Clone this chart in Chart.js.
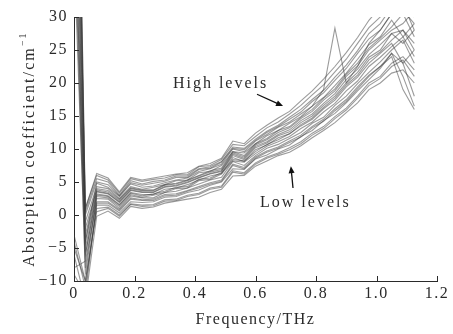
<!DOCTYPE html>
<html>
<head>
<meta charset="utf-8">
<script src="https://cdn.jsdelivr.net/npm/chart.js@4.4.1/dist/chart.umd.min.js"></script>
<style>
    html, body { margin: 0; padding: 0; background: #ffffff; }
    #wrap { width: 453px; height: 334px; position: relative; }
</style>
</head>
<body>
<div id="wrap"><canvas id="chart"></canvas></div>
<script>
// Frequency points (THz)
const freq = [0, 0.0375, 0.075, 0.1125, 0.15, 0.1875, 0.225, 0.2625, 0.3, 0.3375, 0.375, 0.4125, 0.45, 0.4875, 0.525, 0.5625,
    0.6, 0.6375, 0.675, 0.7125, 0.75, 0.7875, 0.825, 0.8625, 0.9, 0.9375, 0.975, 1.0125, 1.05, 1.0875, 1.125];

// Absorption coefficient (cm^-1), one array per sample spectrum
const s01 = [80, 1, 6.3, 5.6, 3.5, 5.7, 5.3, 5.6, 5.9, 6.2, 6.4, 7.4, 7.8, 8.6, 11.2, 10.8, 12.4, 13.6, 14.7, 15.7, 17.3, 18.8, 20.6, 22.5, 24.6, 26.9, 29.5, 31.5, 33, 31, 29];
const s02 = [-6, -13, -0.2, 0.6, -0.5, 1.3, 1.0, 1.2, 1.8, 2.1, 2.4, 2.7, 3.4, 3.9, 5.9, 6.0, 7.4, 8.2, 9.0, 9.5, 10.5, 11.7, 12.8, 14.0, 15.5, 17.0, 19, 20, 21.5, 22, 20];
const s03 = [60, -4, 4.8, 4.2, 2.8, 4.7, 4.2, 4.4, 4.9, 5.3, 5.6, 6.6, 7.0, 7.7, 10.0, 9.6, 11.2, 12.2, 13.3, 14.1, 15.3, 16.5, 19, 28.3, 20, 22.5, 26, 28, 30.5, 32, 28];
const s04 = [45, -9, 2.5, 2.4, 1.0, 2.9, 2.6, 2.6, 3.4, 3.6, 4.1, 4.7, 5.3, 5.7, 8.1, 7.5, 9.0, 10.1, 10.7, 11.6, 12.5, 13.9, 14.8, 16.6, 18.0, 19.9, 21.6, 23.2, 25, 26.5, 23];
const s05 = [-4, -11, 1.5, 1.5, 0.3, 2.0, 1.9, 2.0, 2.7, 2.8, 3.4, 3.8, 4.5, 5.0, 7.0, 6.9, 8.5, 9.1, 10.0, 10.6, 11.9, 12.8, 14.3, 15.4, 17.0, 18.8, 20.5, 22.2, 24.5, 23, 18];
const s06 = [100, 0.5, 5.5, 5.0, 3.0, 5.2, 4.7, 5.1, 5.3, 5.9, 5.9, 7.0, 7.3, 8.1, 10.3, 10.1, 11.5, 12.7, 13.6, 14.8, 16.0, 17.5, 18.9, 20.9, 22.7, 24.9, 27.5, 29, 31.5, 32, 30];
const s07 = [70, -2, 3.8, 3.5, 2.2, 4.0, 3.7, 3.7, 4.5, 4.7, 5.2, 5.9, 6.5, 6.9, 9.4, 8.8, 10.6, 11.4, 12.5, 13.2, 14.6, 15.7, 17.4, 18.8, 21.0, 22.6, 25, 26.5, 28, 29, 31];
const s08 = [50, -6, 3.0, 2.8, 1.5, 3.3, 2.9, 3.2, 3.6, 4.2, 4.3, 5.4, 5.6, 6.4, 8.4, 8.2, 9.6, 10.7, 11.4, 12.3, 13.5, 14.5, 16.1, 17.4, 19.4, 20.9, 23, 24.5, 26, 23, 25];
const s09 = [-8, -7, 2.0, 2.0, 0.8, 2.6, 2.3, 2.4, 3.1, 3.2, 3.7, 4.3, 4.9, 5.3, 7.7, 7.2, 8.8, 9.7, 10.3, 11.2, 12.1, 13.4, 14.5, 16.1, 17.5, 19.4, 21.2, 22.5, 24.5, 21, 16.5];
const s10 = [90, -1, 4.3, 4.0, 2.5, 4.3, 3.9, 4.2, 4.6, 5.2, 5.3, 6.4, 6.6, 7.5, 9.6, 9.4, 10.8, 12.0, 12.8, 13.9, 14.9, 16.5, 17.8, 19.6, 21.5, 23.6, 25.8, 27, 29.5, 27, 24];
const s11 = [55, -5, 3.5, 3.2, 1.9, 3.7, 3.4, 3.4, 4.2, 4.4, 4.9, 5.6, 6.2, 6.6, 9.0, 8.4, 10.2, 10.9, 12.0, 12.6, 14.0, 15.0, 16.6, 18.0, 20.0, 21.6, 23.9, 25, 27.5, 28, 26];
const s12 = [-3, -10, 1.0, 1.2, 0.0, 1.7, 1.5, 1.6, 2.3, 2.4, 3.0, 3.3, 4.1, 4.4, 6.7, 6.4, 7.9, 8.8, 9.4, 10.2, 11.1, 12.4, 13.4, 14.9, 16.2, 18.0, 20, 21, 23, 24, 22];
const s13 = [75, -3, 4.0, 3.7, 2.4, 4.1, 3.8, 3.8, 4.6, 4.8, 5.3, 6.0, 6.7, 7.1, 9.6, 9.0, 10.8, 11.6, 12.8, 13.4, 14.8, 16.0, 17.7, 19.1, 21.3, 23.0, 25.3, 26.8, 28.5, 30.5, 27];
const s14 = [40, -8, 2.8, 2.6, 1.3, 3.1, 2.7, 3.0, 3.4, 4.0, 4.1, 5.2, 5.4, 6.2, 8.2, 8.0, 9.3, 10.4, 11.1, 11.9, 13.1, 14.1, 15.6, 16.9, 18.8, 20.3, 22.5, 23.9, 25.5, 27, 29];
const s15 = [65, -4, 3.6, 3.3, 2.0, 3.8, 3.5, 3.5, 4.3, 4.5, 5.0, 5.7, 6.3, 6.7, 9.2, 8.6, 10.4, 11.1, 12.2, 12.9, 14.3, 15.3, 16.9, 18.4, 20.5, 22.1, 24.3, 25.8, 27.5, 26, 28];
const s16 = [-9, -12, 1.8, 1.8, 0.6, 2.4, 2.2, 2.2, 2.9, 3.0, 3.6, 4.1, 4.7, 5.1, 7.5, 7.0, 8.6, 9.5, 10.1, 11.0, 11.8, 13.2, 14.2, 15.8, 17.2, 19.1, 21, 22.5, 24, 19, 16];
const s17 = [85, 0, 5.0, 4.6, 2.9, 4.9, 4.5, 4.8, 5.1, 5.7, 5.7, 6.9, 7.1, 8.0, 10.1, 9.9, 11.3, 12.5, 13.4, 14.5, 15.6, 17.2, 18.5, 20.4, 22.2, 24.5, 26.7, 28, 30.5, 33, 31];
const s18 = [48, -6, 3.2, 2.9, 1.6, 3.4, 3.1, 3.1, 3.9, 4.1, 4.6, 5.3, 5.9, 6.3, 8.7, 8.1, 9.9, 10.6, 11.7, 12.3, 13.7, 14.7, 16.3, 17.7, 19.7, 21.2, 23.5, 24.7, 26.5, 28, 25];
const s19 = [-5, -10, 0.5, 1.0, -0.2, 1.6, 1.3, 1.4, 2.1, 2.2, 2.8, 3.1, 3.9, 4.2, 6.5, 6.2, 7.7, 8.6, 9.2, 9.9, 10.8, 12.1, 13.1, 14.6, 15.9, 17.7, 19.6, 20.7, 22.5, 23.5, 21];
const s20 = [95, 1, 6.0, 5.3, 3.3, 5.5, 5.1, 5.4, 5.6, 6.1, 6.1, 7.3, 7.5, 8.4, 10.7, 10.5, 11.9, 13.2, 14.1, 15.3, 16.6, 18.2, 19.7, 21.7, 23.6, 26.0, 28.4, 30, 32.5, 34, 32];

const series = [s01, s02, s03, s04, s05, s06, s07, s08, s09, s10, s11, s12, s13, s14, s15, s16, s17, s18, s19, s20];

const xTicks = [0, 0.2, 0.4, 0.6, 0.8, 1.0, 1.2];
const yTicks = [-10, -5, 0, 5, 10, 15, 20, 25, 30];

const FONT = "'Liberation Serif', 'Times New Roman', Times, serif";
const INK = '#2a2a2a';

const datasets = series.map(function (values) {
    return {
        data: values.map(function (v, i) { return { x: freq[i], y: v }; }),
        borderColor: 'rgba(55, 55, 55, 0.5)',
        borderWidth: 1.1,
        pointRadius: 0,
        tension: 0,
        fill: false
    };
});

// wide serif letter spacing like the printed figure
const spacingPlugin = {
    id: 'spacing',
    beforeDraw: (chart) => {
        chart.ctx.letterSpacing = '1.5px';
    }
};

// inward tick marks, y title with superscript, text annotations
const decorPlugin = {
    id: 'decor',
    afterDraw: (chart) => {
        const { ctx, chartArea, scales } = chart;
        const xs = scales.x, ys = scales.y;

        ctx.save();
        ctx.strokeStyle = INK;
        ctx.lineWidth = 1;
        ctx.beginPath();
        xTicks.forEach(function (t) {
            const px = Math.round(xs.getPixelForValue(t)) + 0.5;
            ctx.moveTo(px, chartArea.bottom);
            ctx.lineTo(px, chartArea.bottom - 5);
        });
        yTicks.forEach(function (t) {
            const py = Math.round(ys.getPixelForValue(t)) + 0.5;
            ctx.moveTo(chartArea.left, py);
            ctx.lineTo(chartArea.left + 5, py);
        });
        ctx.stroke();

        // y axis title
        ctx.fillStyle = INK;
        ctx.letterSpacing = '2.1px';
        const main = 'Absorption coefficient/cm';
        ctx.font = '16px ' + FONT;
        const wMain = ctx.measureText(main).width;
        ctx.font = '10px ' + FONT;
        const wSup = ctx.measureText('\u22121').width;
        const total = wMain + wSup;
        ctx.translate(30, (chartArea.top + chartArea.bottom) / 2);
        ctx.rotate(-Math.PI / 2);
        ctx.textBaseline = 'middle';
        ctx.textAlign = 'left';
        ctx.font = '16px ' + FONT;
        ctx.fillText(main, -total / 2, 0);
        ctx.font = '10px ' + FONT;
        ctx.fillText('\u22121', -total / 2 + wMain, -7);
        ctx.restore();

        // annotations (placed in data units)
        ctx.save();
        ctx.fillStyle = INK;
        ctx.strokeStyle = '#111';
        ctx.letterSpacing = '2px';
        ctx.font = '16px ' + FONT;
        ctx.textBaseline = 'middle';
        ctx.textAlign = 'left';
        ctx.fillText('High levels', xs.getPixelForValue(0.327), ys.getPixelForValue(19.9));
        ctx.fillText('Low levels', xs.getPixelForValue(0.615), ys.getPixelForValue(1.9));

        function arrow(x0, y0, x1, y1) {
            const ax = xs.getPixelForValue(x0), ay = ys.getPixelForValue(y0);
            const bx = xs.getPixelForValue(x1), by = ys.getPixelForValue(y1);
            const ang = Math.atan2(by - ay, bx - ax);
            ctx.lineWidth = 1.3;
            ctx.beginPath();
            ctx.moveTo(ax, ay);
            ctx.lineTo(bx - 4 * Math.cos(ang), by - 4 * Math.sin(ang));
            ctx.stroke();
            ctx.beginPath();
            ctx.moveTo(bx, by);
            ctx.lineTo(bx - 7 * Math.cos(ang) + 3 * Math.sin(ang), by - 7 * Math.sin(ang) - 3 * Math.cos(ang));
            ctx.lineTo(bx - 7 * Math.cos(ang) - 3 * Math.sin(ang), by - 7 * Math.sin(ang) + 3 * Math.cos(ang));
            ctx.closePath();
            ctx.fillStyle = '#111';
            ctx.fill();
        }
        arrow(0.605, 18.3, 0.691, 16.5);
        arrow(0.724, 4.1, 0.717, 7.4);
        ctx.restore();
    }
};

const config = {
    type: 'line',
    data: { datasets: datasets },
    options: {
        responsive: false,
        animation: false,
        events: [],
        layout: { padding: { top: 17, right: 16, left: 0, bottom: 0 } },
        plugins: {
            legend: { display: false },
            tooltip: { enabled: false },
            title: { display: false }
        },
        scales: {
            x: {
                type: 'linear',
                min: 0,
                max: 1.2,
                grid: { display: false, drawTicks: false },
                border: { display: true, color: INK, width: 1 },
                afterBuildTicks: (scale) => { scale.ticks = xTicks.map(v => ({ value: v })); },
                afterFit: (scale) => { scale.height = 334 - 281; },
                ticks: {
                    color: INK,
                    padding: 3,
                    maxRotation: 0,
                    font: { family: FONT, size: 16 },
                    callback: (v) => v === 0 ? '0' : v.toFixed(1)
                },
                title: {
                    display: true,
                    text: 'Frequency/THz',
                    color: INK,
                    font: { family: FONT, size: 16 },
                    padding: { top: 4, bottom: 5 }
                }
            },
            y: {
                min: -10,
                max: 30,
                grid: { display: false, drawTicks: false },
                border: { display: true, color: INK, width: 1 },
                afterBuildTicks: (scale) => { scale.ticks = yTicks.map(v => ({ value: v })); },
                afterFit: (scale) => { scale.width = 74; },
                ticks: {
                    color: INK,
                    padding: 6,
                    font: { family: FONT, size: 16 },
                    callback: (v) => v < 0 ? '\u2212' + Math.abs(v) : String(v)
                }
            }
        }
    },
    plugins: [spacingPlugin, decorPlugin]
};

const canvas = document.getElementById('chart');
canvas.width = 453;
canvas.height = 334;
new Chart(canvas.getContext('2d'), config);
</script>
</body>
</html>
